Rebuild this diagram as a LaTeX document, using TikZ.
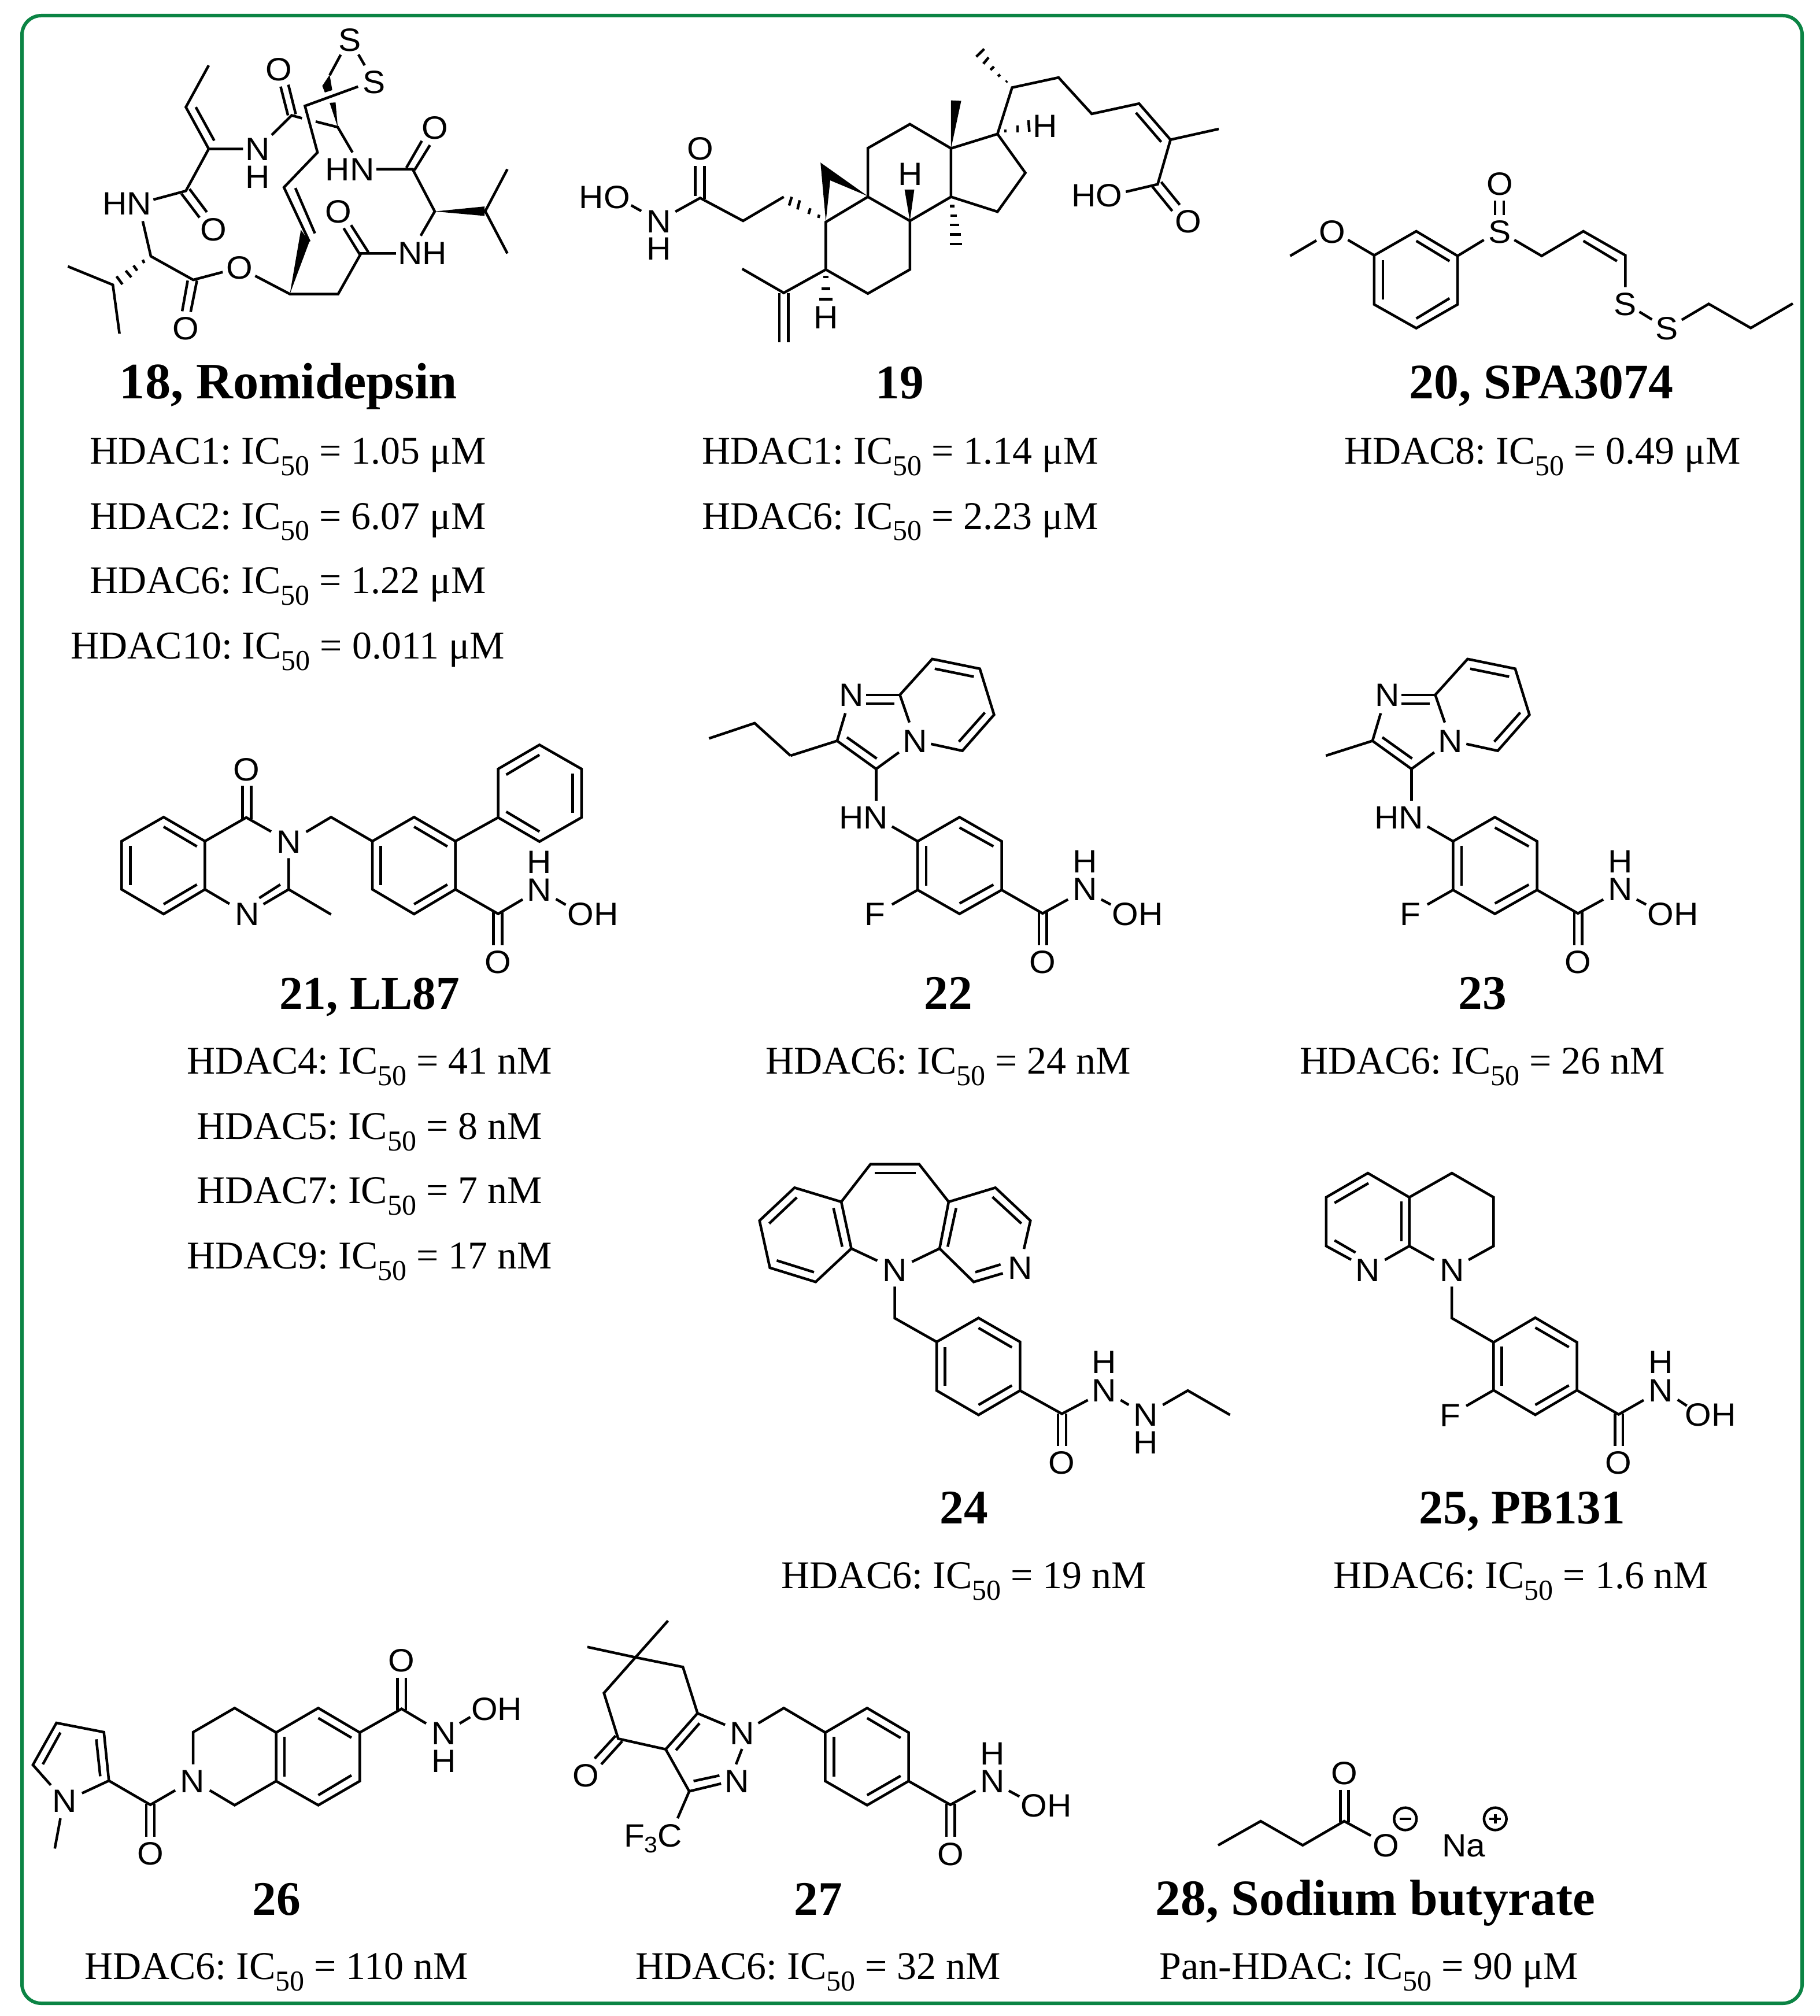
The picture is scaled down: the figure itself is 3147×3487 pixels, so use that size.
\documentclass[tikz,border=0pt]{standalone}
\usepackage{fontspec}
\setmainfont{Liberation Serif}
\newfontfamily\atomfont[FakeStretch=1.05]{Liberation Sans}
\definecolor{framegreen}{HTML}{0B8444}
\newcount\atomc
\newcount\txtc
\tikzset{
  bond/.style={line width=1.08pt,line join=miter,line cap=butt,black},
  atomlab/.style={inner sep=0pt,anchor=center,text height=9.6pt,text depth=0pt,font=\atomfont\fontsize{13.4}{13.4}\selectfont},
  titlelab/.style={inner sep=0pt,anchor=base},
  entrylab/.style={inner sep=0pt,anchor=base,font=\fontsize{16.3}{16.3}\selectfont},
}
\newcommand\atom[2]{\global\advance\atomc by 1 \node[atomlab] (atom\the\atomc) at (#1) {#2};}
\newcommand\ttl[3][20]{\global\advance\txtc by 1 \node[titlelab,font=\bfseries\fontsize{#1}{#1}\selectfont] (text\the\txtc) at (#2) {#3};}
\newcommand\ent[2]{\global\advance\txtc by 1 \node[entrylab] (text\the\txtc) at (#1) {#2};}
\newcommand\bl[1]{\draw[bond] plot coordinates {#1};}
\newcommand\rg[1]{\draw[bond] plot coordinates {#1} -- cycle;}
\newcommand\wdg[1]{\fill[black] plot coordinates {#1} -- cycle;}
\newcommand\IC{IC\raisebox{-4.8pt}{\fontsize{12}{12}\selectfont 50}}
\newcommand\uM{ μM}
\newcommand\hydroxamicTwoTwo[1]{%
  \begin{scope}[shift={(#1,1110)},xscale=860/1568,yscale=600/1568]
    \atom{498,240}{N}\atom{697,448}{N}\atom{535,793}{HN}\atom{1233,992}{H}\atom{1233,1118}{N}
    \atom{1400,1230}{OH}\atom{572,1230}{F}\atom{1100,1447}{O}
    \bl{(305,515) (452,448) (478,323)}
    \bl{(452,448) (575,575) (647,500)}
    \bl{(483,432) (577,528)}
    \bl{(575,575) (575,718)}
    \bl{(543,240) (650,240)}
    \bl{(543,280) (632,280)}
    \bl{(680,365) (650,240) (752,78) (902,122) (947,330) (847,493) (748,462)}
    \bl{(760,122) (883,158)}
    \bl{(918,320) (836,452)}
    \bl{(625,835) (706,902)}
    \rg{(706,902) (838,793) (971,902) (971,1122) (838,1230) (706,1122)}
    \bl{(838,840) (945,925)}
    \bl{(733,922) (733,1102)}
    \bl{(838,1183) (945,1098)}
    \bl{(706,1122) (625,1188)}
    \bl{(971,1122) (1100,1228) (1180,1165)}
    \bl{(1285,1165) (1315,1188)}
    \bl{(1088,1222) (1088,1372)}
    \bl{(1113,1222) (1113,1372)}
  \end{scope}}
\begin{document}
\frenchspacing
\begin{tikzpicture}[x=0.24pt,y=-0.24pt]
\useasboundingbox (0,0) rectangle (3147,3487);
\fill[white] (0,0) rectangle (3147,3487);
\draw[framegreen,line width=1.44pt,rounded corners=8pt] (38,27) rectangle (3117,3465);

% ---- 18
\begin{scope}[shift={(60,20)},xscale=1000/1568,yscale=640/1568]
  \atom{855,118}{S}\atom{920,298}{S}\atom{662,243}{O}\atom{1085,492}{O}\atom{605,583}{N}\atom{605,700}{H}
  \atom{855,667}{HN}\atom{250,812}{HN}\atom{485,922}{O}\atom{824,847}{O}\atom{1052,1023}{NH}\atom{555,1085}{O}\atom{410,1342}{O}
  \bl{(472,228) (410,405) (472,582) (565,582)}
  \bl{(437,405) (487,547)}
  \bl{(472,582) (410,760) (322,797)}
  \bl{(398,772) (447,873)}
  \bl{(420,752) (467,850)}
  \bl{(293,888) (315,1037) (430,1137) (510,1104)}
  \bl{(293,1052) (297,1066)}
  \bl{(268,1076) (278,1098)}
  \bl{(247,1098) (262,1126)}
  \bl{(222,1122) (238,1156)}
  \bl{(90,1080) (212,1158) (230,1365)}
  \bl{(415,1140) (400,1270)}
  \bl{(440,1140) (423,1273)}
  \bl{(598,1120) (692,1197) (823,1197) (885,1025) (980,1025)}
  \bl{(882,1030) (838,918)}
  \bl{(905,1020) (858,905)}
  \bl{(1047,950) (1085,847) (1025,668) (927,668)}
  \wdg{(1085,847) (1220,826) (1220,866)}
  \bl{(1282,668) (1222,846) (1282,1025)}
  \bl{(1008,662) (1050,548)}
  \bl{(1030,672) (1072,566)}
  \bl{(862,597) (822,490) (762,466)}
  \wdg{(822,490) (800,387) (816,385)}
  \bl{(830,183) (800,270)}
  \wdg{(800,268) (780,315) (787,343) (807,333)}
  \bl{(878,182) (895,228)}
  \bl{(877,318) (733,400) (767,597) (676,745) (745,975)}
  \bl{(707,748) (760,940)}
  \wdg{(692,1197) (722,925) (745,975)}
  \bl{(667,318) (687,440)}
  \bl{(688,310) (708,435)}
  \bl{(643,523) (697,440) (725,452)}
\end{scope}
\ttl[21.2]{499,690}{18, Romidepsin}
\ent{498,802}{HDAC1: \IC{} = 1.05\uM}
\ent{498,915}{HDAC2: \IC{} = 6.07\uM}
\ent{498,1026}{HDAC6: \IC{} = 1.22\uM}
\ent{498,1139}{HDAC10: \IC{} = 0.011\uM}

% ---- 19
\begin{scope}[shift={(960,40)},xscale=1200/1568,yscale=620/1568]
  \atom{112,760}{HO}\atom{235,865}{N}\atom{235,985}{H}\atom{328,548}{O}\atom{612,1285}{H}\atom{803,660}{H}
  \atom{1108,450}{H}\atom{1225,752}{HO}\atom{1431,867}{O}
  \bl{(172,797) (195,822)}
  \bl{(272,825) (328,765) (425,865) (517,760)}
  \bl{(317,625) (317,755)}
  \bl{(338,625) (338,770)}
  \bl{(535,760) (529,798)}
  \bl{(553,775) (548,815)}
  \bl{(577,810) (573,835)}
  \bl{(597,838) (595,852)}
  \bl{(707,760) (612,870) (612,1078) (707,1183) (802,1078) (802,865) (707,760) (707,547) (802,442) (895,548) (895,760) (802,865)}
  \bl{(612,1078) (517,1180) (423,1075)}
  \bl{(507,1180) (507,1395)}
  \bl{(527,1180) (527,1395)}
  \wdg{(600,610) (707,757) (622,688) (612,868)}
  \bl{(606,1110) (618,1110)}
  \bl{(602,1162) (622,1162)}
  \bl{(597,1208) (627,1208)}
  \wdg{(802,865) (790,728) (812,728)}
  \bl{(893,800) (903,800)}
  \bl{(894,842) (908,842)}
  \bl{(893,883) (913,883)}
  \bl{(893,925) (917,925)}
  \bl{(892,966) (920,966)}
  \wdg{(895,548) (895,338) (918,340)}
  \bl{(895,548) (1000,485) (1063,655) (1000,825) (895,760)}
  \bl{(1000,485) (1033,282) (1138,238) (1213,397) (1320,352) (1391,510) (1500,463)}
  \bl{(1313,392) (1370,520)}
  \bl{(1391,510) (1362,705) (1290,738)}
  \bl{(1019,258) (1022,253)}
  \bl{(1001,233) (1006,225)}
  \bl{(984,205) (992,190)}
  \bl{(968,178) (980,150)}
  \bl{(952,147) (970,113)}
  \bl{(1018,465) (1018,478)}
  \bl{(1045,447) (1045,478)}
  \bl{(1070,425) (1072,475)}
  \bl{(1350,715) (1395,822)}
  \bl{(1370,695) (1412,795)}
\end{scope}
\ttl{1556,690}{19}
\ent{1557,802}{HDAC1: \IC{} = 1.14\uM}
\ent{1557,915}{HDAC6: \IC{} = 2.23\uM}

% ---- 20
\begin{scope}[shift={(2180,260)},xscale=950/1568,yscale=1/3]
  \atom{205,422}{O}\atom{684,422}{S}\atom{684,173}{O}\atom{1042,797}{S}\atom{1160,922}{S}
  \bl{(85,548) (160,468)}
  \bl{(250,465) (325,545)}
  \rg{(325,545) (445,420) (563,548) (563,800) (445,923) (325,800)}
  \bl{(445,470) (540,575)}
  \bl{(350,570) (350,775)}
  \bl{(445,873) (540,768)}
  \bl{(563,548) (638,465)}
  \bl{(670,260) (670,335)}
  \bl{(695,260) (695,335)}
  \bl{(725,465) (803,548) (922,420) (1042,545) (1042,710)}
  \bl{(922,470) (1018,575)}
  \bl{(1082,838) (1118,878)}
  \bl{(1203,880) (1280,797) (1400,922) (1520,795)}
\end{scope}
\ttl[20.6]{2666,690}{20, SPA3074}
\ent{2668,802}{HDAC8: \IC{} = 0.49\uM}

% ---- 21
\begin{scope}[shift={(180,1260)},xscale=950/1568,yscale=1/3]
  \atom{406,212}{O}\atom{527,585}{N}\atom{408,960}{N}\atom{1243,690}{H}\atom{1243,835}{N}\atom{1396,960}{OH}\atom{1125,1210}{O}
  \rg{(170,460) (288,585) (288,835) (170,963) (50,835) (50,585)}
  \bl{(170,510) (265,612)}
  \bl{(75,610) (75,813)}
  \bl{(170,912) (265,810)}
  \bl{(288,585) (406,462) (477,535)}
  \bl{(395,298) (395,470)}
  \bl{(420,298) (420,470)}
  \bl{(527,673) (527,835) (648,965)}
  \bl{(527,835) (455,912)}
  \bl{(443,880) (503,810)}
  \bl{(288,835) (358,910)}
  \bl{(577,537) (648,460) (766,585)}
  \rg{(766,585) (885,460) (1003,585) (1003,835) (885,963) (766,835)}
  \bl{(885,510) (980,612)}
  \bl{(790,610) (790,813)}
  \bl{(885,912) (980,810)}
  \bl{(1003,585) (1125,462)}
  \rg{(1125,462) (1125,210) (1243,85) (1363,210) (1363,462) (1243,587)}
  \bl{(1148,240) (1243,137)}
  \bl{(1338,235) (1338,438)}
  \bl{(1148,432) (1243,535)}
  \bl{(1003,835) (1125,962) (1195,887)}
  \bl{(1112,955) (1112,1125)}
  \bl{(1136,955) (1136,1125)}
  \bl{(1290,885) (1318,915)}
\end{scope}
\ttl[19.5]{639,1745}{21, LL87}
\ent{639,1857}{HDAC4: \IC{} = 41 nM}
\ent{639,1970}{HDAC5: \IC{} = 8 nM}
\ent{639,2081}{HDAC7: \IC{} = 7 nM}
\ent{639,2194}{HDAC9: \IC{} = 17 nM}

% ---- 22, 23
\hydroxamicTwoTwo{1200}
\begin{scope}[shift={(1200,1110)},xscale=860/1568,yscale=600/1568]
  \bl{(48,437) (192,368) (305,515)}
\end{scope}
\ttl{1640,1745}{22}
\ent{1640,1857}{HDAC6: \IC{} = 24 nM}
\hydroxamicTwoTwo{2126}
\ttl{2564,1745}{23}
\ent{2564,1857}{HDAC6: \IC{} = 26 nM}

% ---- 24
\begin{scope}[shift={(1280,1990)},xscale=880/1568,yscale=600/1568]
  \atom{477,540}{N}\atom{863,530}{N}\atom{1122,955}{H}\atom{1122,1083}{N}\atom{1250,1193}{N}\atom{1250,1318}{H}\atom{992,1410}{O}
  \rg{(312,232) (168,168) (60,317) (92,530) (233,594) (343,443)}
  \bl{(175,212) (90,330)}
  \bl{(113,497) (228,550)}
  \bl{(288,260) (315,435)}
  \bl{(312,232) (402,62) (552,62) (643,232)}
  \bl{(415,102) (541,102)}
  \bl{(615,443) (643,232) (787,168) (895,317) (875,445)}
  \bl{(666,260) (640,435)}
  \bl{(778,210) (867,330)}
  \bl{(615,443) (720,594) (810,555)}
  \bl{(725,550) (803,515)}
  \bl{(423,498) (343,443)}
  \bl{(530,503) (615,443)}
  \bl{(477,615) (477,758) (606,865)}
  \rg{(606,865) (735,757) (863,865) (863,1085) (735,1195) (606,1085)}
  \bl{(735,802) (838,890)}
  \bl{(632,888) (632,1063)}
  \bl{(735,1150) (838,1062)}
  \bl{(863,1085) (992,1190) (1072,1128)}
  \bl{(1173,1128) (1198,1150)}
  \bl{(1303,1150) (1380,1085) (1510,1195)}
  \bl{(980,1190) (980,1335)}
  \bl{(1005,1190) (1005,1335)}
\end{scope}
\ttl{1667,2635}{24}
\ent{1667,2747}{HDAC6: \IC{} = 19 nM}

% ---- 25
\begin{scope}[shift={(2260,2000)},xscale=780/1568,yscale=570/1568]
  \atom{213,540}{N}\atom{505,540}{N}\atom{1232,978}{H}\atom{1232,1112}{N}\atom{1405,1228}{OH}\atom{500,1230}{F}\atom{1085,1457}{O}
  \bl{(155,492) (68,427) (68,195) (213,80) (357,195) (357,427) (272,493)}
  \bl{(215,128) (97,222)}
  \bl{(97,400) (170,458)}
  \bl{(330,215) (330,405)}
  \bl{(357,195) (505,80) (650,195) (650,427) (563,493)}
  \bl{(357,427) (443,493)}
  \bl{(505,620) (505,770) (650,885)}
  \rg{(650,885) (795,768) (940,885) (940,1113) (795,1230) (650,1113)}
  \bl{(795,815) (912,908)}
  \bl{(678,905) (678,1092)}
  \bl{(795,1183) (912,1090)}
  \bl{(650,1113) (555,1188)}
  \bl{(940,1113) (1085,1228) (1172,1160)}
  \bl{(1290,1158) (1322,1187)}
  \bl{(1072,1225) (1072,1378)}
  \bl{(1100,1225) (1100,1378)}
\end{scope}
\ttl{2633,2635}{25, PB131}
\ent{2631,2747}{HDAC6: \IC{} = 1.6 nM}

% ---- 26
\begin{scope}[shift={(50,2820)},xscale=900/1568,yscale=1/3]
  \atom{108,882}{N}\atom{493,782}{N}\atom{366,1157}{O}\atom{1123,155}{O}\atom{1410,407}{OH}\atom{1250,532}{N}\atom{1250,677}{H}
  \bl{(66,803) (12,698) (83,480) (226,528) (241,780) (160,845)}
  \bl{(95,530) (42,695)}
  \bl{(203,565) (215,757)}
  \bl{(95,975) (78,1132)}
  \bl{(241,780) (366,905) (441,830)}
  \bl{(354,900) (354,1070)}
  \bl{(378,900) (378,1070)}
  \bl{(545,830) (620,907) (745,782)}
  \bl{(745,530) (620,403) (495,528) (495,695)}
  \rg{(745,530) (872,403) (997,530) (997,782) (872,907) (745,782)}
  \bl{(872,455) (972,557)}
  \bl{(770,552) (770,760)}
  \bl{(872,855) (972,752)}
  \bl{(997,530) (1123,407) (1197,483)}
  \bl{(1298,483) (1330,450)}
  \bl{(1111,245) (1111,415)}
  \bl{(1136,245) (1136,415)}
\end{scope}
\ttl{478,3312}{26}
\ent{478,3423}{HDAC6: \IC{} = 110 nM}

% ---- 27
\begin{scope}[shift={(970,2770)},xscale=900/1568,yscale=1/3]
  \atom{76,900}{O}\atom{547,682}{N}\atom{530,932}{N}
  \atom{278,1212}{F\raisebox{-2.6pt}{\fontsize{9.4}{9.4}\selectfont 3}C}
  \atom{1300,788}{H}\atom{1300,930}{N}\atom{1463,1057}{OH}\atom{1174,1308}{O}
  \bl{(323,100) (225,290) (130,475) (173,712) (316,767) (412,580) (368,340) (225,290) (80,236)}
  \bl{(418,632) (347,772)}
  \bl{(412,580) (495,640)}
  \bl{(595,632) (672,553) (797,680)}
  \rg{(797,680) (923,553) (1048,680) (1048,932) (923,1057) (797,932)}
  \bl{(923,605) (1024,708)}
  \bl{(823,703) (823,908)}
  \bl{(923,1005) (1024,905)}
  \bl{(546,765) (528,845)}
  \bl{(316,767) (387,985) (483,945)}
  \bl{(400,932) (478,903)}
  \bl{(387,985) (352,1125)}
  \bl{(165,697) (102,815)}
  \bl{(185,725) (122,845)}
  \bl{(1048,932) (1174,1055) (1250,982)}
  \bl{(1350,982) (1382,1012)}
  \bl{(1162,1050) (1162,1222)}
  \bl{(1187,1050) (1187,1222)}
\end{scope}
\ttl{1415,3312}{27}
\ent{1415,3423}{HDAC6: \IC{} = 32 nM}

% ---- 28
\begin{scope}[shift={(2040,3000)},xscale=760/1568,yscale=1/3]
  \atom{588,200}{O}\atom{737,575}{O}\atom{1015,575}{Na}
  \bl{(138,575) (290,450) (440,575) (588,450) (683,525)}
  \bl{(575,287) (575,455)}
  \bl{(603,287) (603,455)}
  \draw[bond] (806,438) circle [x radius=40,y radius=58];
  \bl{(785,438) (828,438)}
  \draw[bond] (1127,438) circle [x radius=40,y radius=58];
  \bl{(1105,438) (1148,438)}
  \bl{(1127,415) (1127,461)}
\end{scope}
\ttl[21]{2379,3312}{28, Sodium butyrate}
\ent{2368,3423}{Pan-HDAC: \IC{} = 90\uM}
\end{tikzpicture}
\end{document}
